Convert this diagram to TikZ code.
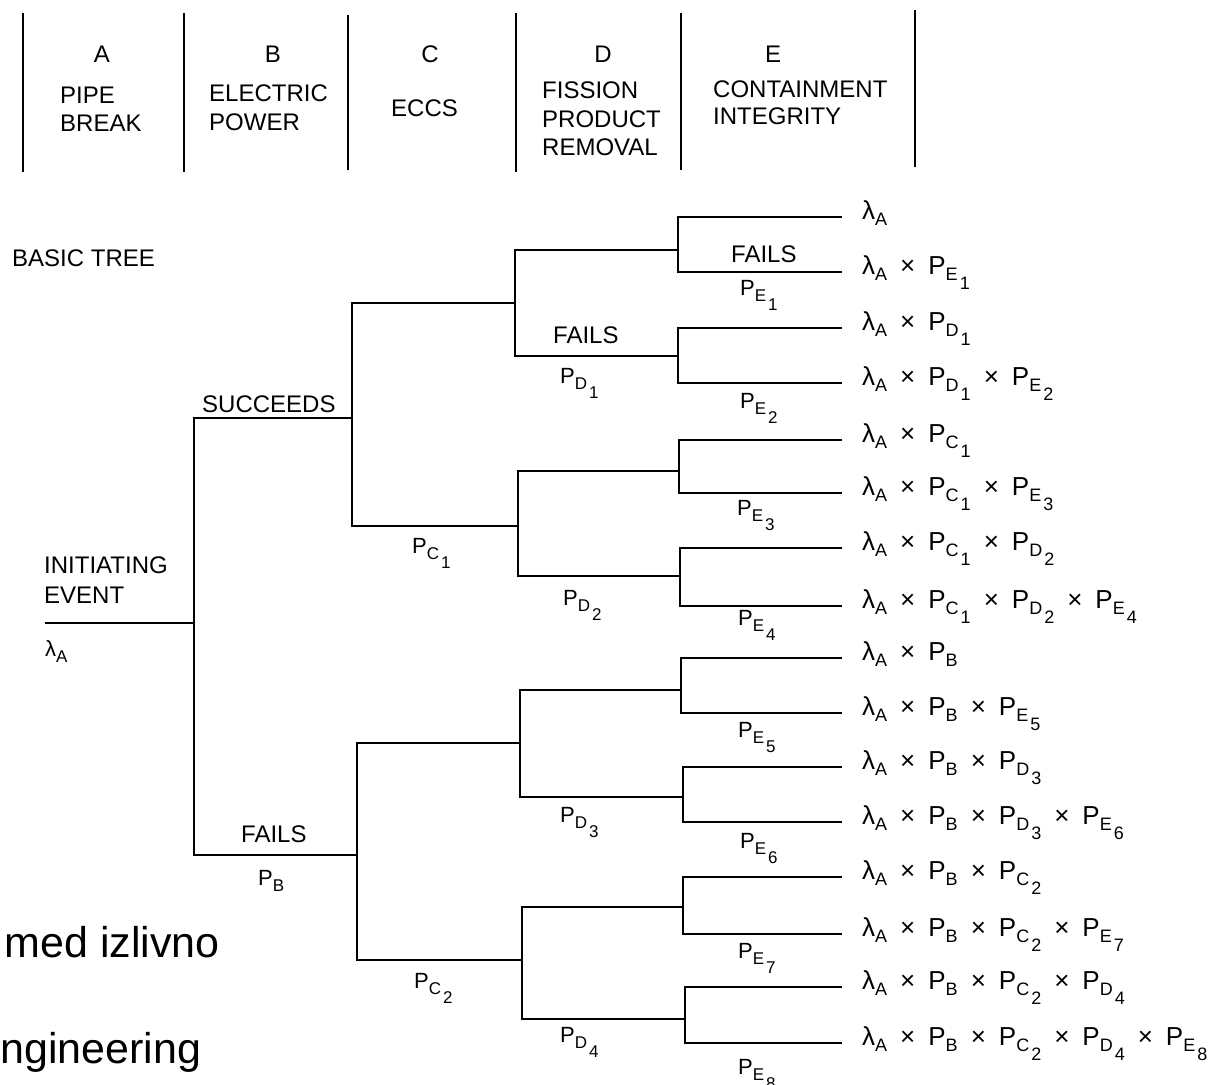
\documentclass[tikz,border=0pt]{standalone}
\usepackage{fontspec}
\setmainfont{Liberation Sans}
\def\subsz{15}
\newcommand\mysubA[1]{\raisebox{-6pt}{\fontsize{\subsz}{\subsz}\selectfont #1}}
\newcommand\mysubB[1]{\hspace{2pt}\raisebox{-15pt}{\fontsize{\subsz}{\subsz}\selectfont #1}}
\newcommand\probone[1]{P\mysubA{#1}}
\newcommand\probtwo[2]{P\mysubA{#1}\mysubB{#2}}
\newcommand\lamA{λ\mysubA{A}}
\newcommand\tms{\hspace{13pt}×\hspace{13pt}}
\tikzset{
  tree/.style={line width=2.4pt, line join=miter},
  hdr/.style={line width=2.2pt},
  lbl/.style={inner sep=0pt, font=\fontsize{24}{28}\selectfont},
  plbl/.style={inner sep=0pt, anchor=base west, font=\def\subsz{17}\fontsize{22}{25}\selectfont},
  outc/.style={inner sep=0pt, anchor=base west, font=\def\subsz{18}\fontsize{26}{30}\selectfont},
  big/.style={inner sep=0pt, font=\fontsize{43}{46}\selectfont}
}
\begin{document}
\begin{tikzpicture}[x=1pt,y=-1pt]
\useasboundingbox (0,0) rectangle (1225,1084);
\clip (0,0) rectangle (1225,1084);
\fill[white] (0,0) rectangle (1225,1084);

% header separators
\foreach \n/\x/\t/\b in {1/23/13/172, 2/184/13/172, 3/348/15/170, 4/516/13/172, 5/681/13/170, 6/915/10/167} {
  \coordinate (ht\n) at (\x,\t);
  \coordinate (hb\n) at (\x,\b);
  \draw[hdr] (ht\n) -- (hb\n);
}
% header texts
\node[lbl, anchor=base] (hA) at (102,62) {A};
\node[lbl, anchor=base west] (hA1) at (60,103) {PIPE};
\node[lbl, anchor=base west] (hA2) at (60,131) {BREAK};
\node[lbl, anchor=base] (hB) at (273,62) {B};
\node[lbl, anchor=base west] (hB1) at (209,101) {ELECTRIC};
\node[lbl, anchor=base west] (hB2) at (209,130) {POWER};
\node[lbl, anchor=base] (hC) at (430,62) {C};
\node[lbl, anchor=base west] (hC1) at (391,116) {ECCS};
\node[lbl, anchor=base] (hD) at (603,62) {D};
\node[lbl, anchor=base west] (hD1) at (542,98) {FISSION};
\node[lbl, anchor=base west] (hD2) at (542,127) {PRODUCT};
\node[lbl, anchor=base west] (hD3) at (542,155) {REMOVAL};
\node[lbl, anchor=base] (hE) at (773,62) {E};
\node[lbl, anchor=base west] (hE1) at (713,97) {CONTAINMENT};
\node[lbl, anchor=base west] (hE2) at (713,124) {INTEGRITY};

\node[lbl, anchor=base west] (basic) at (12,266) {BASIC TREE};
\node[lbl, anchor=base west] (init1) at (44,573) {INITIATING};
\node[lbl, anchor=base west] (init2) at (44,603) {EVENT};
\node[plbl] (lam0) at (45,656) {\lamA};

% tree coordinates
\coordinate (ie) at (45,623);
\coordinate (a) at (194,623);
\coordinate (c1) at (352,418);
\coordinate (c2) at (357,855);
\coordinate (d1) at (515,303);
\coordinate (d2) at (518,526);
\coordinate (d3) at (520,743);
\coordinate (d4) at (522,960);
\coordinate (e1) at (678,250);
\coordinate (e2) at (678,356);
\coordinate (e3) at (679,471);
\coordinate (e4) at (680,576);
\coordinate (e5) at (681,690);
\coordinate (e6) at (683,797);
\coordinate (e7) at (683,907);
\coordinate (e8) at (685,1019);
\foreach \i/\y in {1/217, 2/272, 3/328, 4/383, 5/440, 6/493, 7/548, 8/606,
                   9/658, 10/713, 11/767, 12/822, 13/877, 14/934, 15/987, 16/1043} {
  \coordinate (o\i) at (842,\y);
}

\draw[tree] (ie) -- (a);
\draw[tree] (c1) -| (a) |- (c2);
\draw[tree] (d1) -| (c1) |- (d2);
\draw[tree] (d3) -| (c2) |- (d4);
\draw[tree] (e1) -| (d1) |- (e2);
\draw[tree] (e3) -| (d2) |- (e4);
\draw[tree] (e5) -| (d3) |- (e6);
\draw[tree] (e7) -| (d4) |- (e8);
\draw[tree] (o1) -| (e1) |- (o2);
\draw[tree] (o3) -| (e2) |- (o4);
\draw[tree] (o5) -| (e3) |- (o6);
\draw[tree] (o7) -| (e4) |- (o8);
\draw[tree] (o9) -| (e5) |- (o10);
\draw[tree] (o11) -| (e6) |- (o12);
\draw[tree] (o13) -| (e7) |- (o14);
\draw[tree] (o15) -| (e8) |- (o16);

% branch labels
\node[lbl, anchor=base west] (succ) at (202,412) {SUCCEEDS};
\node[lbl, anchor=base west] (failB) at (241,842) {FAILS};
\node[plbl] (pB) at (258,885) {\probone{B}};
\node[plbl] (pC1) at (412,553) {\probtwo{C}{1}};
\node[plbl] (pC2) at (414,988) {\probtwo{C}{2}};
\node[lbl, anchor=base west] (failD) at (553,343) {FAILS};
\node[plbl] (pD1) at (560,383) {\probtwo{D}{1}};
\node[plbl] (pD2) at (563,605) {\probtwo{D}{2}};
\node[plbl] (pD3) at (560,822) {\probtwo{D}{3}};
\node[plbl] (pD4) at (560,1042) {\probtwo{D}{4}};
\node[lbl, anchor=base west] (failE) at (731,262) {FAILS};
\node[plbl] (pE1) at (740,295) {\probtwo{E}{1}};
\node[plbl] (pE2) at (740,408) {\probtwo{E}{2}};
\node[plbl] (pE3) at (737,515) {\probtwo{E}{3}};
\node[plbl] (pE4) at (738,625) {\probtwo{E}{4}};
\node[plbl] (pE5) at (738,737) {\probtwo{E}{5}};
\node[plbl] (pE6) at (740,848) {\probtwo{E}{6}};
\node[plbl] (pE7) at (738,958) {\probtwo{E}{7}};
\node[plbl] (pE8) at (738,1074) {\probtwo{E}{8}};

% outcomes
\node[outc] (r1) at (862,219) {\lamA};
\node[outc] (r2) at (862,274) {\lamA\tms\probtwo{E}{1}};
\node[outc] (r3) at (862,330) {\lamA\tms\probtwo{D}{1}};
\node[outc] (r4) at (862,385) {\lamA\tms\probtwo{D}{1}\tms\probtwo{E}{2}};
\node[outc] (r5) at (862,442) {\lamA\tms\probtwo{C}{1}};
\node[outc] (r6) at (862,495) {\lamA\tms\probtwo{C}{1}\tms\probtwo{E}{3}};
\node[outc] (r7) at (862,550) {\lamA\tms\probtwo{C}{1}\tms\probtwo{D}{2}};
\node[outc] (r8) at (862,608) {\lamA\tms\probtwo{C}{1}\tms\probtwo{D}{2}\tms\probtwo{E}{4}};
\node[outc] (r9) at (862,660) {\lamA\tms\probone{B}};
\node[outc] (r10) at (862,715) {\lamA\tms\probone{B}\tms\probtwo{E}{5}};
\node[outc] (r11) at (862,769) {\lamA\tms\probone{B}\tms\probtwo{D}{3}};
\node[outc] (r12) at (862,824) {\lamA\tms\probone{B}\tms\probtwo{D}{3}\tms\probtwo{E}{6}};
\node[outc] (r13) at (862,879) {\lamA\tms\probone{B}\tms\probtwo{C}{2}};
\node[outc] (r14) at (862,936) {\lamA\tms\probone{B}\tms\probtwo{C}{2}\tms\probtwo{E}{7}};
\node[outc] (r15) at (862,989) {\lamA\tms\probone{B}\tms\probtwo{C}{2}\tms\probtwo{D}{4}};
\node[outc] (r16) at (862,1045) {\lamA\tms\probone{B}\tms\probtwo{C}{2}\tms\probtwo{D}{4}\tms\probtwo{E}{8}};

% partial slide text at the lower left
\node[big, anchor=base east] (slide1) at (220,957) {med izlivno};
\node[big, anchor=base west] (slide2) at (0,1063) {ngineering};
\end{tikzpicture}
\end{document}
